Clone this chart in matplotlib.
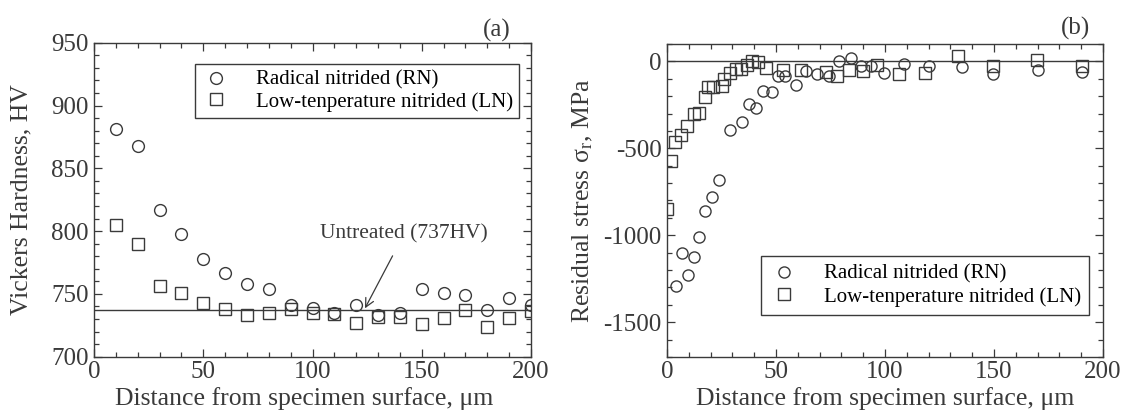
import matplotlib
matplotlib.use('Agg')
import matplotlib.pyplot as plt
from matplotlib.ticker import MultipleLocator

plt.rcParams['font.family'] = ['Liberation Serif', 'DejaVu Serif']
plt.rcParams['mathtext.fontset'] = 'stix'
plt.rcParams['axes.unicode_minus'] = False

# (a) hardness profile
dist_a = [10, 20, 30, 40, 50, 60, 70, 80, 90, 100,
          110, 120, 130, 140, 150, 160, 170, 180, 190, 200]
hv_rn = [881, 868, 817, 798, 778, 767, 758, 754, 741, 739,
         735, 741, 733, 735, 754, 751, 749, 737, 747, 741]
hv_ln = [805, 790, 756, 751, 743, 738, 733, 735, 738, 735,
         734, 727, 732, 732, 726, 731, 737, 724, 731, 736]
hv_untreated = 737

# (b) residual stress profile
dist_rn = [4.0, 6.8, 9.7, 12.2, 14.7, 17.2, 20.5, 23.8, 29.0, 34.2,
           37.8, 40.8, 43.9, 48.2, 50.7, 54.3, 59.2, 63.9, 68.8, 74.1,
           78.7, 84.5, 88.9, 93.4, 99.3, 108.7, 120.0, 135.1, 149.7, 170.3, 190.5]
sr_rn = [-1289, -1102, -1228, -1127, -1012, -860, -780, -680, -397, -349,
         -243, -268, -172, -176, -86, -86, -138, -57, -73, -82,
         0, 17, -25, -25, -67, -15, -29, -34, -71, -52, -63]
dist_ln = [0.0, 2.0, 3.6, 6.6, 9.2, 12.2, 14.7, 17.2, 18.8, 21.3,
           25.1, 26.2, 28.7, 31.5, 33.7, 36.6, 39.1, 41.6, 45.5, 53.0,
           61.4, 73.0, 77.9, 83.5, 89.8, 96.4, 106.6, 118.3, 133.5, 149.7, 169.8, 190.5]
sr_ln = [-849, -571, -466, -421, -374, -301, -297, -207, -148, -148,
         -144, -100, -67, -44, -44, -19, 0, -6, -38, -52,
         -48, -63, -86, -52, -57, -19, -71, -67, 29, -25, 10, -29]

c = '#3a3a3a'
lab_rn = 'Radical nitrided (RN)'
lab_ln = 'Low-tenperature nitrided (LN)'

fig = plt.figure(figsize=(11.26, 4.17), dpi=100)
ax1 = fig.add_axes([0.0835, 0.1446, 0.3881, 0.753])
ax2 = fig.add_axes([0.5924, 0.1439, 0.3872, 0.7506])

mk = dict(linestyle='none', mfc='none', mec=c, mew=1.0)

ax1.axhline(hv_untreated, color=c, lw=1.0)
ax1.plot(dist_a, hv_rn, marker='o', ms=8.5, label=lab_rn, **mk)
ax1.plot(dist_a, hv_ln, marker='s', ms=8, label=lab_ln, **mk)
ax1.set_xlim(0, 200)
ax1.set_ylim(700, 950)
ax1.xaxis.set_major_locator(MultipleLocator(50))
ax1.xaxis.set_minor_locator(MultipleLocator(10))
ax1.yaxis.set_major_locator(MultipleLocator(50))
ax1.yaxis.set_minor_locator(MultipleLocator(10))
ax1.set_xlabel('Distance from specimen surface, μm', fontsize=18.5, color=c)
ax1.set_ylabel('Vickers Hardness, HV', fontsize=18.5, color=c)
ax1.xaxis.set_label_coords(0.48, -0.095)
ax1.yaxis.set_label_coords(-0.14, 0.5)
ax1.annotate('Untreated (737HV)', xy=(124, 738.5), xytext=(142, 798),
             ha='center', va='center', fontsize=15.5, color=c,
             arrowprops=dict(arrowstyle='->', color=c, lw=0.9, shrinkA=8, shrinkB=0))
ax1.text(0.922, 1.04, '(a)', transform=ax1.transAxes, ha='center', va='center',
         fontsize=18, color=c)
ax1.legend(loc='upper right', bbox_to_anchor=(0.973, 0.932), fontsize=15,
           frameon=True, fancybox=False, edgecolor=c, framealpha=1,
           handlelength=1.4, handletextpad=1.2, borderpad=0.3, labelspacing=0.1,
           borderaxespad=0)

ax2.axhline(0, color=c, lw=1.0)
ax2.plot(dist_rn, sr_rn, marker='o', ms=8, label=lab_rn, **mk)
ax2.plot(dist_ln, sr_ln, marker='s', ms=8, label=lab_ln, **mk)
ax2.set_xlim(0, 200)
ax2.set_ylim(-1700, 100)
ax2.xaxis.set_major_locator(MultipleLocator(50))
ax2.xaxis.set_minor_locator(MultipleLocator(10))
ax2.yaxis.set_major_locator(MultipleLocator(500))
ax2.yaxis.set_minor_locator(MultipleLocator(100))
ax2.set_xlabel('Distance from specimen surface, μm', fontsize=18.5, color=c)
ax2.set_ylabel(r'Residual stress σ$_\mathregular{r}$, MPa', fontsize=18.5, color=c)
ax2.xaxis.set_label_coords(0.5, -0.095)
ax2.yaxis.set_label_coords(-0.165, 0.5)
ax2.text(0.938, 1.051, '(b)', transform=ax2.transAxes, ha='center', va='center',
         fontsize=18, color=c)
ax2.legend(loc='lower right', bbox_to_anchor=(0.968, 0.134), fontsize=15,
           frameon=True, fancybox=False, edgecolor=c, framealpha=1,
           handlelength=1.4, handletextpad=1.2, borderpad=0.4, labelspacing=0.15,
           borderaxespad=0)

for ax in (ax1, ax2):
    for s in ax.spines.values():
        s.set_color(c)
        s.set_linewidth(1.0)
    ax.tick_params(which='both', direction='in', top=True, right=True,
                   colors=c, labelcolor=c, labelsize=18, width=0.9)
    ax.tick_params(which='major', length=6)
    ax.tick_params(which='minor', length=3.5)
    ax.tick_params(axis='y', pad=4)
    ax.tick_params(axis='x', pad=3)

fig.savefig('out.png', dpi=100)
